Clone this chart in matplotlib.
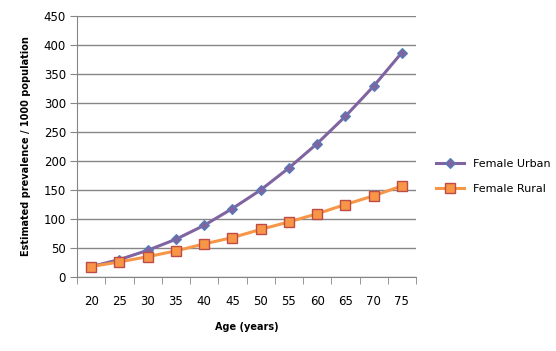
import matplotlib
matplotlib.use("Agg")
from matplotlib import pyplot as plt
import numpy as np

ages = ["20", "25", "30", "35", "40", "45", "50", "55", "60", "65", "70", "75"]
femaleUrban = [18, 30, 46, 65, 89, 118, 150, 188, 230, 277, 329, 387]
femaleRural = [18, 26, 35, 45, 57, 68, 82, 95, 109, 125, 140, 157]

plt.rcParams["font.family"] = ["DejaVu Sans"]
fig = plt.figure(figsize=(5.56, 3.51), dpi=100)
ax = fig.add_axes([77 / 556, 1 - 277 / 351, 339 / 556, 261 / 351])

x = np.arange(len(ages))
ax.plot(x, femaleUrban, color="#8064A2", linewidth=2.2, marker="D", markersize=5,
        markerfacecolor="#8064A2", markeredgecolor="#4F81BD", markeredgewidth=0.8,
        label="Female Urban")
ax.plot(x, femaleRural, color="#F79646", linewidth=2.2, marker="s", markersize=7.5,
        markerfacecolor="#F79646", markeredgecolor="#BE4B48", markeredgewidth=1,
        label="Female Rural")

ax.set_xlim(-0.5, len(ages) - 0.5)
ax.set_ylim(0, 450)
ax.set_yticks(range(0, 451, 50))
ax.yaxis.grid(True, color="#868686", linewidth=1)
ax.set_axisbelow(True)
ax.set_xticks(x)
ax.set_xticklabels(ages)
ax.set_xticks(np.arange(-0.5, len(ages)), minor=True)
ax.tick_params(axis="x", which="major", length=0, pad=13, labelsize=8.5)
ax.tick_params(axis="x", which="minor", length=5, color="#868686")
ax.tick_params(axis="y", length=5, color="#868686", labelsize=8.5, pad=3)
for side in ["top", "right"]:
    ax.spines[side].set_visible(False)
ax.spines["left"].set_color("#868686")
ax.spines["bottom"].set_color("#868686")

ax.set_xlabel("Age (years)", fontsize=7, fontweight="bold", labelpad=10)
ax.set_ylabel("Estimated prevalence / 1000 population", fontsize=7,
              fontweight="bold", labelpad=9)

ax.legend(loc="center left", bbox_to_anchor=(1.03, 0.385), frameon=False,
          fontsize=8, handlelength=2.5, labelspacing=1.3)

plt.savefig("out.png", dpi=100)
